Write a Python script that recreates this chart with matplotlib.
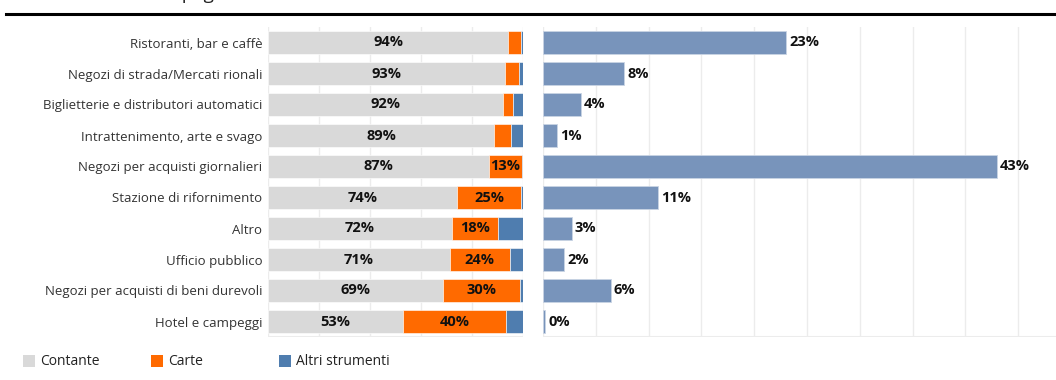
import matplotlib
matplotlib.use("Agg")
import matplotlib.pyplot as plt
from matplotlib.patches import Rectangle
from matplotlib.lines import Line2D

plt.rcParams['font.family'] = ['Open Sans', 'DejaVu Sans']

# Sectors, top to bottom
categories = [
    "Ristoranti, bar e caffè",
    "Negozi di strada/Mercati rionali",
    "Biglietterie e distributori automatici",
    "Intrattenimento, arte e svago",
    "Negozi per acquisti giornalieri",
    "Stazione di rifornimento",
    "Altro",
    "Ufficio pubblico",
    "Negozi per acquisti di beni durevoli",
    "Hotel e campeggi",
]

# Share of transactions by instrument (%)
contante = [94.2, 93.0, 92.2, 88.8, 86.7, 74.2, 72.0, 71.2, 68.7, 53.1]
carte = [5.0, 5.4, 3.8, 6.5, 12.9, 25.0, 18.2, 23.6, 30.0, 40.1]
altri = [0.8, 1.6, 4.0, 4.7, 0.4, 0.8, 9.8, 5.2, 1.3, 6.8]

# Share of each sector in total spending (%)
quota = [23.0, 7.7, 3.6, 1.3, 43.0, 10.9, 2.7, 2.0, 6.4, 0.2]

legend_labels = ["Contante", "Carte", "Altri strumenti"]

C_CASH = "#D9D9D9"
C_CARD = "#FF6A00"
C_OTHER = "#4F7DAF"
C_SHARE = "#7894BB"
GRID = "#ECECEC"
TXT = "#333333"

W, H = 1056, 380
fig = plt.figure(figsize=(W / 100, H / 100), dpi=100)


def fx(px):
    return px / W


def fy(py):
    return 1 - py / H


top, bottom = 27, 337
ax1 = fig.add_axes([fx(268), fy(bottom), fx(523 - 268), fy(top) - fy(bottom)])
ax2 = fig.add_axes([fx(543), fy(bottom), fx(W - 543), fy(top) - fy(bottom)])

n = len(categories)
ypos = list(range(n))
bh = 0.71

for ax in (ax1, ax2):
    ax.set_ylim(n - 0.5, -0.5)
    for s in ax.spines.values():
        s.set_visible(False)
    ax.tick_params(length=0, labelbottom=False)
    ax.set_axisbelow(True)
    ax.grid(axis="x", color=GRID, linewidth=1)
    ax.grid(axis="y", visible=False)
    ax.axhline(n - 0.5, color=GRID, linewidth=1.5)

# Left: stacked composition
ax1.set_xlim(0, 100)
ax1.set_xticks([0, 20, 40, 60, 80, 100])
left2 = [a + b for a, b in zip(contante, carte)]
ax1.barh(ypos, contante, height=bh, color=C_CASH, edgecolor="white", linewidth=0.4)
ax1.barh(ypos, carte, left=contante, height=bh, color=C_CARD, edgecolor="white", linewidth=0.4)
ax1.barh(ypos, altri, left=left2, height=bh, color=C_OTHER, edgecolor="white", linewidth=0.4)
ax1.set_yticks(ypos)
ax1.set_yticklabels(categories, fontsize=9.5, color=TXT)
ax1.tick_params(axis="y", pad=4)

VAL_FS = 10.5
for i in ypos:
    ax1.text(contante[i] / 2, i, f"{contante[i]:.0f}%", ha="center", va="center",
             fontsize=VAL_FS, fontweight="bold", color="#111111")
    if carte[i] >= 10:
        ax1.text(contante[i] + carte[i] / 2, i, f"{carte[i]:.0f}%", ha="center",
                 va="center", fontsize=VAL_FS, fontweight="bold", color="#111111")

# Right: sector share of spending
ax2.set_xlim(0, (W - 543) / 10.56)
ax2.set_xticks(list(range(0, 50, 5)))
ax2.barh(ypos, quota, height=bh, color=C_SHARE, edgecolor="#C9D4E4", linewidth=0.6)
ax2.set_yticks([])
for i in ypos:
    ax2.text(quota[i] + 0.3, i, f"{quota[i]:.0f}%", ha="left", va="center",
             fontsize=VAL_FS, fontweight="bold", color="#111111")

# Title rule and heading running off the top edge
fig.add_artist(Line2D([fx(6), 1], [fy(14), fy(14)], color="black", linewidth=2.2))
fig.text(fx(69), fy(-1), "Strumenti di pagamento", fontsize=13.5, color="#222222",
         ha="left", va="baseline")

# Legend
colors = [C_CASH, C_CARD, C_OTHER]
sq_x = [23, 151, 279]
for x, c, lab in zip(sq_x, colors, legend_labels):
    fig.add_artist(Rectangle((fx(x), fy(367)), fx(12), fy(355) - fy(367),
                             transform=fig.transFigure, facecolor=c, edgecolor="none"))
    fig.text(fx(x + 17), fy(361.5), lab, fontsize=10, color="#222222",
             ha="left", va="center")

fig.savefig("out.png", dpi=100, facecolor="white")
